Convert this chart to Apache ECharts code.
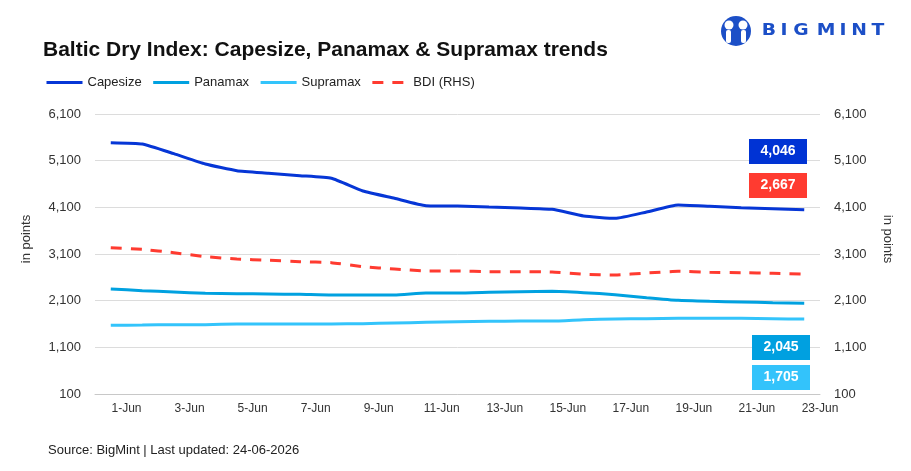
<!DOCTYPE html>
<html>
<head>
<meta charset="utf-8">
<script src="https://cdn.jsdelivr.net/npm/echarts@6/dist/echarts.min.js"></script>
<style>
  html, body { margin: 0; padding: 0; background: #fff; }
  #main { width: 911px; height: 471px; }
</style>
</head>
<body>
<div id="main"></div>
<script>
const days = ['1-Jun', '2-Jun', '3-Jun', '4-Jun', '5-Jun', '6-Jun', '7-Jun', '8-Jun', '9-Jun', '10-Jun',
  '11-Jun', '12-Jun', '13-Jun', '14-Jun', '15-Jun', '16-Jun', '17-Jun', '18-Jun', '19-Jun', '20-Jun',
  '21-Jun', '22-Jun', '23-Jun']

const capesize = [5485, 5457, 5250, 5029, 4886, 4832, 4778, 4722, 4450, 4294, 4136, 4129,
  4107, 4086, 4058, 3914, 3864, 4000, 4150, 4122, 4093, 4072, 4046]
const panamax = [2350, 2314, 2286, 2257, 2250, 2243, 2236, 2221, 2221, 2221, 2264, 2264,
  2279, 2293, 2300, 2271, 2229, 2164, 2107, 2086, 2071, 2057, 2045]
const supramax = [1572, 1579, 1586, 1586, 1600, 1600, 1600, 1600, 1607, 1621, 1636, 1650,
  1657, 1664, 1664, 1693, 1707, 1714, 1721, 1721, 1721, 1714, 1705]
const bdi = [3235, 3200, 3128, 3043, 2993, 2965, 2936, 2914, 2828, 2779, 2736, 2736,
  2721, 2721, 2714, 2665, 2650, 2693, 2729, 2707, 2700, 2686, 2667]

const yTicks = [100, 1100, 2100, 3100, 4100, 5100, 6100]

const colors = {
  cape: '#0636d6',
  pana: '#00a1e0',
  supra: '#33c4fb',
  bdi: '#ff3b30'
}

const fmt = v => v.toLocaleString('en-US')
const last = arr => arr[arr.length - 1]

const chart = echarts.init(document.getElementById('main'))

// value boxes at the right edge, showing the latest values
function valueBox(x, y, color, value) {
  return {
    type: 'group',
    left: x,
    top: y,
    z: 100,
    children: [
      { type: 'rect', z: 100, shape: { x: 0, y: 0, width: 58, height: 25 }, style: { fill: color } },
      {
        type: 'text', z: 101, x: 29, y: 12.5,
        style: {
          text: fmt(value), fill: '#fff', font: 'bold 14px "Liberation Sans", Arial, sans-serif',
          align: 'center', verticalAlign: 'middle'
        }
      }
    ]
  }
}

const logoLetters = [['B', 769], ['I', 784], ['G', 801], ['M', 826], ['I', 843], ['N', 859], ['T', 878]]

const option = {
  animation: false,
  backgroundColor: '#fff',
  title: {
    text: 'Baltic Dry Index: Capesize, Panamax & Supramax trends',
    left: 38,
    top: 35,
    textStyle: {
      fontFamily: '"Liberation Sans", Arial, sans-serif',
      fontSize: 21,
      fontWeight: 'bold',
      color: '#111'
    }
  },
  legend: {
    left: 40,
    top: 71,
    itemWidth: 36,
    itemHeight: 14,
    itemGap: 10,
    itemStyle: { opacity: 0 },
    lineStyle: { width: 3 },
    textStyle: { fontFamily: '"Liberation Sans", Arial, sans-serif', fontSize: 13, color: '#222' },
    data: ['Capesize', 'Panamax', 'Supramax', 'BDI (RHS)']
  },
  grid: { left: 95, right: 91, top: 114, bottom: 77 },
  xAxis: {
    type: 'category',
    data: days,
    boundaryGap: true,
    axisLine: { lineStyle: { color: '#c8c8c8' } },
    axisTick: { interval: 1, length: 5, lineStyle: { color: '#c8c8c8' } },
    axisLabel: {
      interval: 1,
      margin: 9,
      padding: [0, 0, 0, 31.5],
      fontFamily: '"Liberation Sans", Arial, sans-serif',
      fontSize: 12,
      color: '#333'
    }
  },
  yAxis: [
    {
      type: 'value',
      min: yTicks[0],
      max: last(yTicks),
      interval: 1000,
      name: 'in points',
      nameLocation: 'middle',
      nameGap: 62,
      nameTextStyle: { fontFamily: '"Liberation Sans", Arial, sans-serif', fontSize: 13, color: '#333', padding: [0, 0, 0, 30] },
      axisLine: { show: false },
      axisTick: { show: false },
      axisLabel: {
        margin: 14,
        fontFamily: '"Liberation Sans", Arial, sans-serif',
        fontSize: 13,
        color: '#333',
        formatter: v => fmt(v)
      },
      splitLine: { lineStyle: { color: '#dcdcdc', width: 1 } }
    },
    {
      type: 'value',
      min: yTicks[0],
      max: last(yTicks),
      interval: 1000,
      name: 'in points',
      nameLocation: 'middle',
      nameGap: 61,
      nameRotate: -90,
      nameTextStyle: { fontFamily: '"Liberation Sans", Arial, sans-serif', fontSize: 13, color: '#333', padding: [0, 30, 0, 0] },
      axisLine: { show: false },
      axisTick: { show: false },
      axisLabel: {
        margin: 14,
        fontFamily: '"Liberation Sans", Arial, sans-serif',
        fontSize: 13,
        color: '#333',
        formatter: v => fmt(v)
      },
      splitLine: { show: false }
    }
  ],
  series: [
    {
      name: 'Capesize', type: 'line', data: capesize, yAxisIndex: 0,
      symbol: 'none', smooth: 0.15, color: colors.cape,
      lineStyle: { width: 3, color: colors.cape }
    },
    {
      name: 'Panamax', type: 'line', data: panamax, yAxisIndex: 0,
      symbol: 'none', smooth: 0.15, color: colors.pana,
      lineStyle: { width: 3, color: colors.pana }
    },
    {
      name: 'Supramax', type: 'line', data: supramax, yAxisIndex: 0,
      symbol: 'none', smooth: 0.15, color: colors.supra,
      lineStyle: { width: 3, color: colors.supra }
    },
    {
      name: 'BDI (RHS)', type: 'line', data: bdi, yAxisIndex: 1,
      symbol: 'none', smooth: 0.15, color: colors.bdi,
      lineStyle: { width: 3, color: colors.bdi, type: [11, 9] }
    }
  ],
  graphic: [
    valueBox(749, 139, '#0033d4', last(capesize)),
    valueBox(749, 173, '#ff3b30', last(bdi)),
    valueBox(752, 335, '#00a0e0', last(panamax)),
    valueBox(752, 365, '#33c3fb', last(supramax)),
    {
      type: 'text', left: 48, top: 444,
      style: {
        text: 'Source: BigMint | Last updated: 24-06-2026',
        font: '13px "Liberation Sans", Arial, sans-serif', fill: '#222'
      }
    },
    // logo
    {
      type: 'group',
      children: [
        { type: 'circle', shape: { cx: 736, cy: 31, r: 15 }, style: { fill: '#1c4fc7' } },
        { type: 'circle', shape: { cx: 729, cy: 25, r: 4.5 }, style: { fill: '#fff' } },
        { type: 'circle', shape: { cx: 743, cy: 25, r: 4.5 }, style: { fill: '#fff' } },
        { type: 'rect', shape: { x: 726, y: 30, width: 5, height: 13, r: 2 }, style: { fill: '#fff' } },
        { type: 'rect', shape: { x: 741, y: 30, width: 5, height: 13, r: 2 }, style: { fill: '#fff' } },
        { type: 'rect', shape: { x: 734, y: 22, width: 4, height: 18 }, style: { fill: '#1c4fc7' } }
      ].concat(logoLetters.map(([ch, x]) => ({
        type: 'text', x: x, y: 31, scaleX: 1.25,
        style: {
          text: ch, fill: '#1c4fc7', font: 'bold 15px "DejaVu Sans", Arial, sans-serif',
          align: 'center', verticalAlign: 'middle'
        }
      })))
    }
  ]
}

chart.setOption(option)
</script>
</body>
</html>
